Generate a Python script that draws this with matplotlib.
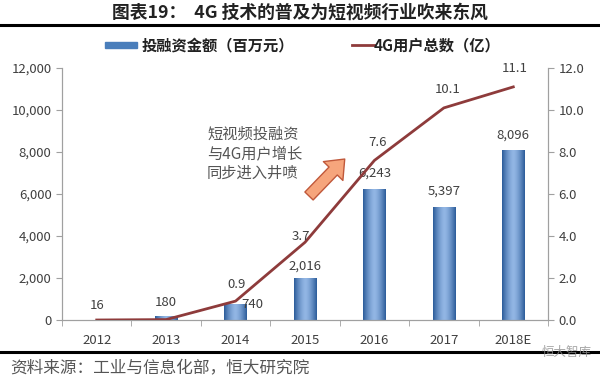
import numpy as np
import matplotlib
matplotlib.use('Agg')
import matplotlib.pyplot as plt
from matplotlib.patches import Rectangle
from matplotlib.lines import Line2D

plt.rcParams['font.family'] = ['Noto Sans CJK SC', 'DejaVu Sans']

years = ['2012', '2013', '2014', '2015', '2016', '2017', '2018E']
funding = [16, 180, 740, 2016, 6243, 5397, 8096]        # 百万元
users = [0.0, 0.02, 0.9, 3.7, 7.6, 10.1, 11.1]           # 亿
user_labels = ['', '', '0.9', '3.7', '7.6', '10.1', '11.1']

# label offsets in points (dx, dy)
bar_off = [(0, 10), (0, 10), (12, 0), (0, 8), (0, 11), (0, 11), (0, 11)]
line_off = [(0, 12), (0, 12), (1, 12), (-3, 4), (2, 13), (3, 13), (1, 13)]

W, H = 600, 379
fig = plt.figure(figsize=(W / 100, H / 100), dpi=100)
ax = fig.add_axes([62 / W, 1 - 320 / H, (548 - 62) / W, (320 - 68) / H])
ax2 = ax.twinx()

x = np.arange(len(years))
bw = 0.32

# bars with a horizontal gradient (dark edges, light centre)
grad = np.abs(np.linspace(-1, 1, 64)) ** 1.5
grad = grad[np.newaxis, :]
cmap = matplotlib.colors.LinearSegmentedColormap.from_list('b', ['#92b6e4', '#2c5c9a'])
bars = ax.bar(x, funding, width=bw, color='#4a7ebb', zorder=2)
for b in bars:
    bx, by = b.get_x(), b.get_y()
    im = ax.imshow(grad, cmap=cmap, aspect='auto', zorder=2.1,
                   extent=[bx, bx + b.get_width(), by, by + b.get_height()])
    im.set_clip_path(b)
for xi, v, off in zip(x, funding, bar_off):
    ax.annotate(f'{v:,}', (xi, v), xytext=off, textcoords='offset points',
                ha='center', va='center', fontsize=9.5, color='#404040')

ax2.plot(x, users, color='#8e3b3b', lw=2, zorder=3)
for xi, v, s, off in zip(x, users, user_labels, line_off):
    if s:
        ax2.annotate(s, (xi, v), xytext=off, textcoords='offset points',
                     ha='center', va='center', fontsize=9.5, color='#404040')
ax2.set_ylim(0, 12)
ax2.set_yticks(np.arange(0, 12.1, 2))
ax2.set_yticklabels([f'{v:.1f}' for v in np.arange(0, 12.1, 2)])

ax.set_yticks(np.arange(0, 12001, 2000))
ax.set_yticklabels([f'{v:,}' for v in range(0, 12001, 2000)])
ax.set_xticks(x)
ax.set_xticklabels(years)
ax.set_xticks(np.arange(-0.5, len(years)), minor=True)
ax.set_xlim(-0.5, len(years) - 0.5)
ax.set_ylim(0, 12000)

for a in (ax, ax2):
    a.spines['top'].set_visible(False)
    a.tick_params(labelsize=9.5, labelcolor='#404040', color='#a0a0a0', length=4, width=0.8)
    for s in ('left', 'right', 'bottom'):
        a.spines[s].set_color('#a0a0a0')
ax.tick_params(axis='x', which='major', length=0, pad=10)
ax.tick_params(axis='x', which='minor', length=4, color='#a0a0a0')

# annotation text and arrow
ax2.text(1.59, 7.9, '短视频投融资\n与4G用户增长\n同步进入井喷', fontsize=11, color='#555555',
         linespacing=1.2, va='center', ha='left')
ax2.annotate('', xy=(3.60, 7.76), xytext=(3.03, 5.81),
             arrowprops=dict(arrowstyle='simple,head_length=0.8,head_width=1.3,tail_width=0.55',
                             mutation_scale=15, fc='#f6a57c', ec='#c0583a', lw=1),
             zorder=4)

# title, rules, legend, source
fig.text(112 / W, 1 - 13 / H, '图表19：  4G 技术的普及为短视频行业吹来东风', ha='left', va='center',
         fontsize=12.8, fontweight='bold', color='#222222')
fig.add_artist(Line2D([0, 1], [1 - 24.5 / H, 1 - 24.5 / H], color='black', lw=2.2))
fig.add_artist(Line2D([0, 1], [1 - 352 / H, 1 - 352 / H], color='black', lw=2.2))

fig.add_artist(Rectangle((105 / W, 1 - 48 / H), 32 / W, 6 / H, color='#4a7ebb'))
fig.text(142 / W, 1 - 45 / H, '投融资金额（百万元）', va='center', fontsize=11,
         fontweight='bold', color='#222222')
fig.add_artist(Line2D([352 / W, 374 / W], [1 - 45 / H, 1 - 45 / H], color='#8e3b3b', lw=2))
fig.text(374 / W, 1 - 45 / H, '4G用户总数（亿）', va='center', fontsize=11,
         fontweight='bold', color='#222222')

fig.text(10 / W, 1 - 369 / H, '资料来源：工业与信息化部，恒大研究院', va='center', fontsize=12,
         style='italic', color='#555555')
fig.text(592 / W, 1 - 352 / H, '恒大智库', va='center', ha='right', fontsize=9,
         color='#909090', alpha=0.8)

fig.savefig('out.png', dpi=100)
